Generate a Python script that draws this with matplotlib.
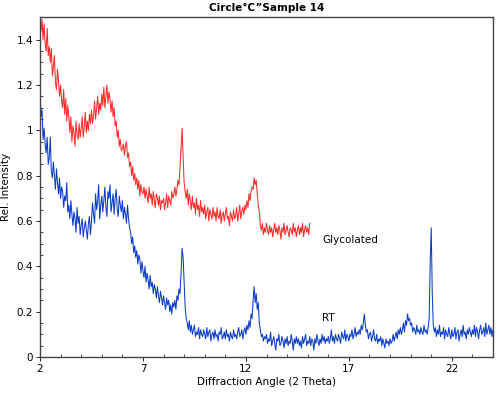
import numpy as np
import matplotlib
matplotlib.use("Agg")
import matplotlib.pyplot as plt
from matplotlib.ticker import MultipleLocator, FixedLocator

# step-scan start and step (deg 2-theta)
scan_start = 2.0
scan_step = 0.05

# RT (air dried) trace, one row per 0.5 deg
rt_intensity = [
    1.17, 1.06, 1.09, 0.96, 1.01, 0.94, 0.90, 0.97, 0.85, 0.88,
    0.97, 0.82, 0.79, 0.86, 0.80, 0.74, 0.83, 0.77, 0.72, 0.79,
    0.70, 0.75, 0.73, 0.66, 0.71, 0.69, 0.77, 0.64, 0.67, 0.61,
    0.69, 0.63, 0.58, 0.64, 0.61, 0.55, 0.66, 0.59, 0.62, 0.54,
    0.58, 0.61, 0.53, 0.57, 0.60, 0.56, 0.52, 0.59, 0.62, 0.54,
    0.60, 0.68, 0.63, 0.59, 0.72, 0.65, 0.69, 0.76, 0.61, 0.67,
    0.71, 0.64, 0.69, 0.75, 0.66, 0.62, 0.73, 0.70, 0.76, 0.64,
    0.68, 0.72, 0.63, 0.70, 0.74, 0.65, 0.62, 0.71, 0.67, 0.64,
    0.69, 0.61, 0.66, 0.63, 0.59, 0.67, 0.61, 0.57, 0.55, 0.50,
    0.53, 0.46, 0.49, 0.44, 0.47, 0.41, 0.45, 0.43, 0.37, 0.42,
    0.38, 0.35, 0.40, 0.33, 0.37, 0.34, 0.30, 0.36, 0.31, 0.33,
    0.28, 0.32, 0.30, 0.26, 0.31, 0.27, 0.24, 0.29, 0.26, 0.23,
    0.27, 0.24, 0.21, 0.26, 0.23, 0.25, 0.20, 0.23, 0.19, 0.24,
    0.22, 0.25, 0.21, 0.27, 0.25, 0.30, 0.28, 0.37, 0.48, 0.44,
    0.33, 0.22, 0.17, 0.15, 0.12, 0.16, 0.11, 0.14, 0.10, 0.12,
    0.14, 0.09, 0.11, 0.10, 0.13, 0.08, 0.12, 0.10, 0.09, 0.12,
    0.10, 0.08, 0.13, 0.09, 0.11, 0.12, 0.07, 0.10, 0.11, 0.08,
    0.12, 0.09, 0.10, 0.07, 0.11, 0.10, 0.13, 0.08, 0.09, 0.11,
    0.08, 0.12, 0.09, 0.10, 0.07, 0.11, 0.09, 0.08, 0.12, 0.09,
    0.10, 0.08, 0.11, 0.13, 0.09, 0.10, 0.12, 0.08, 0.11, 0.13,
    0.10, 0.14, 0.12, 0.16, 0.13, 0.19, 0.17, 0.25, 0.31, 0.24,
    0.28, 0.21, 0.24, 0.15, 0.12, 0.09, 0.10, 0.07, 0.09, 0.08,
    0.10, 0.06, 0.08, 0.07, 0.11, 0.05, 0.07, 0.09, 0.06, 0.03,
    0.08, 0.07, 0.10, 0.05, 0.06, 0.09, 0.07, 0.04, 0.08, 0.06,
    0.09, 0.05, 0.07, 0.06, 0.10, 0.07, 0.03, 0.08, 0.06, 0.09,
    0.06, 0.08, 0.05, 0.07, 0.04, 0.09, 0.06, 0.08, 0.10, 0.05,
    0.07, 0.06, 0.09, 0.05, 0.08, 0.07, 0.03, 0.08, 0.06, 0.10,
    0.07, 0.05, 0.08, 0.06, 0.10, 0.07, 0.09, 0.06, 0.08, 0.07,
    0.09, 0.06, 0.08, 0.12, 0.07, 0.09, 0.06, 0.10, 0.08, 0.07,
    0.10, 0.08, 0.06, 0.11, 0.09, 0.08, 0.12, 0.07, 0.10, 0.09,
    0.07, 0.10, 0.09, 0.12, 0.08, 0.10, 0.13, 0.09, 0.11, 0.10,
    0.12, 0.10, 0.14, 0.12, 0.15, 0.19, 0.14, 0.11, 0.12, 0.08,
    0.10, 0.11, 0.07, 0.09, 0.12, 0.08, 0.07, 0.10, 0.06, 0.08,
    0.07, 0.09, 0.05, 0.08, 0.06, 0.04, 0.08, 0.06, 0.07, 0.05,
    0.08, 0.06, 0.07, 0.10, 0.07, 0.09, 0.11, 0.08, 0.12, 0.10,
    0.13, 0.10, 0.12, 0.15, 0.11, 0.16, 0.14, 0.19, 0.16, 0.17,
    0.14, 0.15, 0.11, 0.13, 0.12, 0.10, 0.14, 0.11, 0.12, 0.10,
    0.13, 0.11, 0.10, 0.14, 0.11, 0.12, 0.10, 0.13, 0.17, 0.42,
    0.57, 0.28, 0.14, 0.11, 0.13, 0.09, 0.12, 0.10, 0.14, 0.09,
    0.11, 0.10, 0.13, 0.08, 0.12, 0.10, 0.09, 0.13, 0.10, 0.08,
    0.12, 0.09, 0.10, 0.13, 0.08, 0.11, 0.12, 0.07, 0.10, 0.12,
    0.09, 0.14, 0.10, 0.11, 0.08, 0.12, 0.10, 0.13, 0.11, 0.09,
    0.12, 0.10, 0.14, 0.09, 0.13, 0.11, 0.08, 0.12, 0.14, 0.10,
    0.11, 0.13, 0.09, 0.15, 0.10, 0.12, 0.14, 0.10, 0.13, 0.09,
    0.12,
]

# Glycolated trace (scan stops near 15.1 deg)
gly_intensity = [
    1.46, 1.44, 1.49, 1.40, 1.47, 1.38, 1.35, 1.45, 1.33, 1.37,
    1.30, 1.36, 1.24, 1.28, 1.33, 1.21, 1.18, 1.27, 1.22, 1.15,
    1.20, 1.13, 1.10, 1.18, 1.07, 1.14, 1.04, 1.11, 1.06, 0.99,
    1.06, 0.95, 1.02, 0.99, 0.93, 1.04, 0.98, 0.96, 1.03, 0.97,
    1.01, 1.06, 0.97, 1.02, 1.08, 0.99, 1.04, 1.00, 1.07, 1.03,
    1.09, 1.03, 1.06, 1.13, 1.05, 1.10, 1.15, 1.07, 1.12, 1.09,
    1.16, 1.11, 1.19, 1.10, 1.15, 1.20, 1.12, 1.17, 1.14, 1.08,
    1.13, 1.06, 1.10, 1.02, 1.04, 0.97, 1.00, 0.93, 0.96, 0.91,
    0.92, 0.94, 0.89, 0.93, 0.95, 0.88, 0.90, 0.84, 0.86, 0.80,
    0.84, 0.78, 0.81, 0.76, 0.79, 0.74, 0.78, 0.71, 0.76, 0.73,
    0.72, 0.75, 0.70, 0.74, 0.71, 0.68, 0.75, 0.70, 0.72, 0.67,
    0.73, 0.69, 0.66, 0.72, 0.70, 0.67, 0.71, 0.65, 0.69, 0.68,
    0.70, 0.65, 0.68, 0.72, 0.66, 0.71, 0.69, 0.67, 0.73, 0.70,
    0.72, 0.75, 0.71, 0.74, 0.78, 0.76, 0.84, 0.92, 1.01, 0.88,
    0.77, 0.73, 0.70, 0.74, 0.67, 0.72, 0.69, 0.65, 0.71, 0.66,
    0.68, 0.63, 0.70, 0.65, 0.67, 0.62, 0.69, 0.64, 0.66, 0.63,
    0.67, 0.61, 0.64, 0.66, 0.60, 0.65, 0.63, 0.61, 0.66, 0.62,
    0.64, 0.60, 0.66, 0.62, 0.61, 0.65, 0.59, 0.63, 0.64, 0.60,
    0.63, 0.66, 0.61, 0.62, 0.58, 0.64, 0.62, 0.60, 0.65, 0.61,
    0.62, 0.66, 0.60, 0.63, 0.67, 0.61, 0.64, 0.66, 0.63, 0.67,
    0.65, 0.69, 0.66, 0.72, 0.69, 0.73, 0.75, 0.74, 0.79, 0.76,
    0.78, 0.72, 0.67, 0.64, 0.58, 0.56, 0.59, 0.54, 0.57, 0.55,
    0.59, 0.56, 0.54, 0.58, 0.55, 0.57, 0.53, 0.56, 0.59, 0.55,
    0.57, 0.54, 0.58, 0.56, 0.52, 0.57, 0.55, 0.59, 0.54, 0.56,
    0.58, 0.55, 0.53, 0.57, 0.56, 0.54, 0.59, 0.55, 0.57, 0.53,
    0.56, 0.58, 0.54, 0.57, 0.55, 0.59, 0.53, 0.56, 0.58, 0.55,
    0.57, 0.54, 0.59,
]

x_ticks = [2, 7, 12, 17, 22]
y_ticks = [0, 0.2, 0.4, 0.6, 0.8, 1, 1.2, 1.4]
y_tick_labels = ["0", "0.2", "0.4", "0.6", "0.8", "1", "1.2", "1.4"]

two_theta_rt = scan_start + scan_step * np.arange(len(rt_intensity))
two_theta_gly = scan_start + scan_step * np.arange(len(gly_intensity))

fig = plt.figure(figsize=(5.0, 3.96), dpi=100)
ax = fig.add_axes([0.08, 0.0985, 0.906, 0.8585])

ax.plot(two_theta_gly, gly_intensity, color='#FF2A2A', linewidth=0.75)
ax.plot(two_theta_rt, rt_intensity, color='#0A3CC8', linewidth=0.75)

ax.text(15.7, 0.515, "Glycolated", fontsize=7.5, va='center', ha='left')
ax.text(15.7, 0.17, "RT", fontsize=7.5, va='center', ha='left')

ax.set_xlim(2, 24)
ax.set_ylim(0, 1.5)
ax.xaxis.set_major_locator(FixedLocator(x_ticks))
ax.xaxis.set_minor_locator(MultipleLocator(1))
ax.set_yticks(y_ticks)
ax.set_yticklabels(y_tick_labels)
ax.yaxis.set_minor_locator(MultipleLocator(0.05))
ax.tick_params(which='major', direction='out', length=3, width=0.6,
               labelsize=7.5, pad=2)
ax.tick_params(which='minor', direction='in', length=2.5, width=0.5)

for sp in ax.spines.values():
    sp.set_linewidth(1.0)
    sp.set_color('#444444')

ax.set_xlabel("Diffraction Angle (2 Theta)", fontsize=7.5, labelpad=2)
ax.set_ylabel("Rel. Intensity", fontsize=7.5, labelpad=4)
ax.set_title("Circle°C”Sample 14", fontsize=7.5, fontweight='bold', pad=4)

fig.savefig("out.png", dpi=100)
